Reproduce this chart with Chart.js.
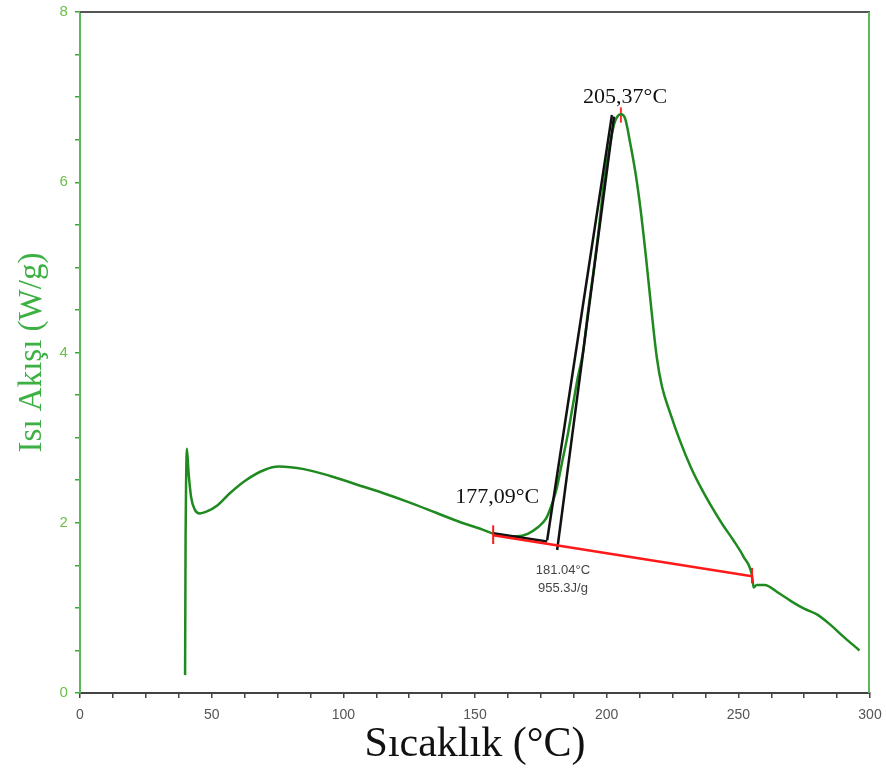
<!DOCTYPE html>
<html>
<head>
<meta charset="utf-8">
<script src="https://cdn.jsdelivr.net/npm/chart.js@4.4.1/dist/chart.umd.min.js"></script>
<style>
  body { margin: 0; background: #fff; }
  canvas { display: block; }
</style>
</head>
<body>
<canvas id="dscChart" width="886" height="771"></canvas>
<script>
// DSC curve
var temps = [39.9, 40.0, 40.1, 40.3, 40.6, 41.2, 42.2, 43.5, 45.5, 48, 52, 57, 63, 70, 75.5, 85, 95, 105, 115, 125, 135, 145, 152, 157, 162, 166, 170, 174, 177, 179, 181, 183, 185, 187, 189, 191, 193, 195, 197, 199, 201, 203, 205.4, 207, 209, 211, 213, 215, 217, 219, 221, 224, 228, 232, 236, 240, 244, 248, 252, 255.2, 255.8, 257, 260, 265, 270, 275, 280, 285, 290, 296];
var heatFlow = [0.21, 1.0, 1.85, 2.5, 2.87, 2.6, 2.3, 2.16, 2.11, 2.13, 2.2, 2.35, 2.5, 2.62, 2.66, 2.63, 2.55, 2.45, 2.35, 2.24, 2.12, 2.0, 1.93, 1.87, 1.84, 1.84, 1.87, 1.95, 2.05, 2.2, 2.4, 2.7, 3.0, 3.35, 3.7, 4.0, 4.5, 4.95, 5.45, 6.0, 6.4, 6.7, 6.8, 6.75, 6.45, 6.1, 5.65, 5.1, 4.5, 3.95, 3.6, 3.3, 2.95, 2.65, 2.4, 2.18, 1.98, 1.8, 1.6, 1.38, 1.24, 1.27, 1.27, 1.18, 1.08, 0.99, 0.92, 0.8, 0.66, 0.5];

// integration baseline (red) and onset construction (black)
var baseX = [156.9, 255.2];
var baseY = [1.853, 1.372];
var tickStartX = [156.9, 156.9], tickStartY = [1.75, 1.97];
var tickEndX = [255.2, 255.2], tickEndY = [1.29, 1.47];
var tickPeakX = [205.4, 205.4], tickPeakY = [6.7, 6.88];
var onsetFlatX = [156.9, 177.4], onsetFlatY = [1.877, 1.78];
var tangentAX = [177.4, 202.0], tangentAY = [1.795, 6.79];
var tangentBX = [181.2, 202.8], tangentBY = [1.68, 6.77];

var xTicks = [0, 50, 100, 150, 200, 250, 300];
var yTicks = [0, 2, 4, 6, 8];

var notes = [
  { text: '205,37°C', x: 207, y: 7.0, font: '22px "Liberation Serif"', color: '#111' },
  { text: '177,09°C', x: 158.4, y: 2.3, font: '22px "Liberation Serif"', color: '#111' },
  { text: '181.04°C', x: 183.4, y: 1.44, font: '13px "Liberation Sans"', color: '#444' },
  { text: '955.3J/g', x: 183.4, y: 1.23, font: '13px "Liberation Sans"', color: '#444' }
];

function pts(xs, ys) {
  return xs.map(function (x, i) { return { x: x, y: ys[i] }; });
}

function seg(xs, ys, color, width) {
  return { data: pts(xs, ys), borderColor: color, borderWidth: width, pointRadius: 0, fill: false, tension: 0 };
}

var frameAndNotes = {
  id: 'frameAndNotes',
  afterDatasetsDraw: function (chart) {
    var ctx = chart.ctx, a = chart.chartArea;
    var sx = chart.scales.x, sy = chart.scales.y;
    ctx.save();
    // top and right border
    ctx.lineWidth = 2;
    ctx.strokeStyle = '#555';
    ctx.beginPath();
    ctx.moveTo(a.left, a.top);
    ctx.lineTo(a.right, a.top);
    ctx.stroke();
    ctx.strokeStyle = '#5cb85c';
    ctx.beginPath();
    ctx.moveTo(a.right - 1, a.top);
    ctx.lineTo(a.right - 1, a.bottom);
    ctx.stroke();
    // labels
    ctx.textAlign = 'center';
    ctx.textBaseline = 'middle';
    notes.forEach(function (n) {
      ctx.font = n.font;
      ctx.fillStyle = n.color;
      ctx.fillText(n.text, sx.getPixelForValue(n.x), sy.getPixelForValue(n.y));
    });
    ctx.restore();
  }
};

var ctx = document.getElementById('dscChart').getContext('2d');
var dscChart = new Chart(ctx, {
  type: 'line',
  data: {
    datasets: [
      seg(baseX, baseY, '#ff1a1a', 2.5),
      seg(tickStartX, tickStartY, '#ff1a1a', 2),
      seg(tickEndX, tickEndY, '#ff1a1a', 2),
      seg(onsetFlatX, onsetFlatY, '#111', 2.5),
      seg(tangentAX, tangentAY, '#111', 2.5),
      seg(tangentBX, tangentBY, '#111', 2.5),
      { data: pts(temps, heatFlow), borderColor: '#1f8a1f', borderWidth: 2.5, pointRadius: 0, fill: false, cubicInterpolationMode: 'monotone' },
      seg(tickPeakX, tickPeakY, '#ff3030', 2)
    ]
  },
  options: {
    responsive: false,
    animation: false,
    devicePixelRatio: 1,
    layout: { padding: { top: 10, right: 16, left: 0, bottom: 0 } },
    plugins: { legend: { display: false }, tooltip: { enabled: false } },
    scales: {
      x: {
        type: 'linear',
        min: 0,
        max: 300,
        afterFit: function (s) { s.height = 78; },
        ticks: {
          stepSize: 12.5,
          autoSkip: false,
          maxRotation: 0,
          padding: 3,
          color: '#555',
          // tall line height pushes the labels a bit lower under the axis
          font: { family: 'Liberation Sans', size: 14, lineHeight: 2.0 },
          callback: function (v) { return xTicks.indexOf(v) >= 0 ? String(v) : ''; }
        },
        grid: { drawOnChartArea: false, tickLength: 5, color: '#444', lineWidth: 1.5 },
        border: { color: '#444', width: 2 },
        title: {
          display: true,
          text: 'Sıcaklık (°C)',
          color: '#111',
          font: { family: 'Liberation Serif', size: 42 },
          padding: { top: 0, bottom: 1 }
        }
      },
      y: {
        min: 0,
        max: 8,
        afterFit: function (s) { s.width = 80; },
        ticks: {
          stepSize: 0.5,
          autoSkip: false,
          padding: 3,
          color: '#6cbf4a',
          font: { family: 'Liberation Sans', size: 15 },
          // trailing space keeps the digits a little further from the axis
          callback: function (v) { return yTicks.indexOf(v) >= 0 ? v + ' ' : ''; }
        },
        grid: { drawOnChartArea: false, tickLength: 5, color: '#3aa83a', lineWidth: 1.5 },
        border: { color: '#5cb85c', width: 2 },
        title: {
          display: true,
          text: 'Isı Akışı (W/g)',
          color: '#3cb043',
          font: { family: 'Liberation Serif', size: 33 },
          padding: { top: 13, bottom: 0 }
        }
      }
    }
  },
  plugins: [frameAndNotes]
});
</script>
</body>
</html>
